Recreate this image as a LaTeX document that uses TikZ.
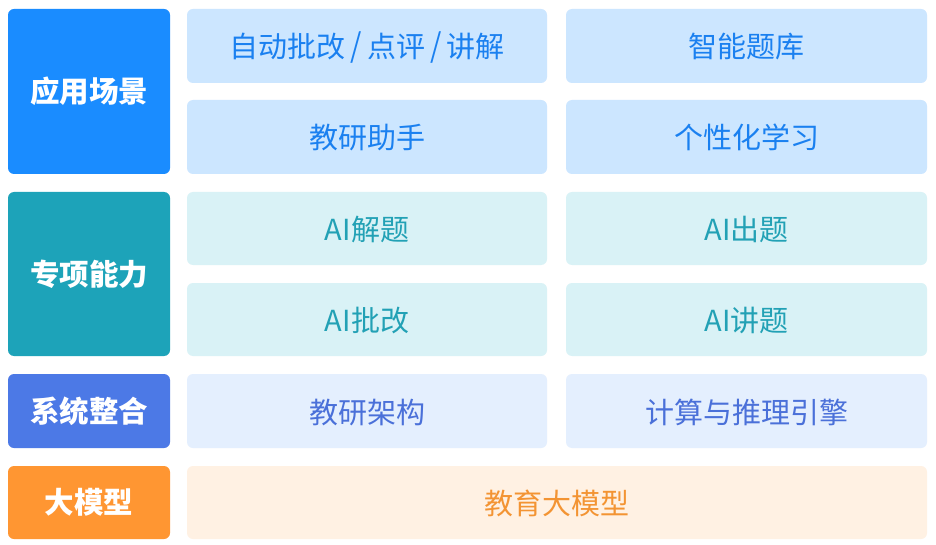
\documentclass[tikz,border=0pt]{standalone}
\usepackage{fontspec}
\setmainfont{Noto Sans CJK SC}
\definecolor{cA}{HTML}{1A8CFF}
\definecolor{cB}{HTML}{1DA3B9}
\definecolor{cC}{HTML}{4C79E6}
\definecolor{cD}{HTML}{FF9632}
\definecolor{lA}{HTML}{CCE6FF}
\definecolor{lB}{HTML}{D9F2F6}
\definecolor{lC}{HTML}{E4EFFE}
\definecolor{lD}{HTML}{FFF1E3}
\definecolor{tA}{HTML}{1A80F0}
\definecolor{tB}{HTML}{22A1B5}
\definecolor{tC}{HTML}{4A70D9}
\definecolor{tD}{HTML}{F39433}
\tikzset{
  base/.style={rounded corners=6pt, inner sep=0pt, align=center},
  head/.style={base, text=white, font=\fontsize{29.5}{34}\selectfont\bfseries, minimum width=162pt},
  cell/.style={base, font=\fontsize{29}{34}\selectfont, text height=27pt, text depth=3pt},
}
\newcommand{\myslash}{\kern5pt\scalebox{1}[1.12]{/}\kern5pt}
\begin{document}
\begin{tikzpicture}[x=1pt,y=-1pt]
\useasboundingbox (0,0) rectangle (936,545);
\fill[white] (0,0) rectangle (936,545);
% left headers
\node[head, fill=cA, minimum height=165pt] (h1) at (89,91.5) {应用场景};
\node[head, fill=cB, minimum height=164pt] (h2) at (89,274) {专项能力};
\node[head, fill=cC, minimum height=74pt] (h3) at (89,411) {系统整合};
\node[head, fill=cD, minimum height=73pt] (h4) at (89,502.5) {大模型};
% row 1-2
\node[cell, fill=lA, text=tA, minimum width=360pt, minimum height=74pt] (a1) at (367,46) {自动批改\myslash 点评\myslash 讲解};
\node[cell, fill=lA, text=tA, minimum width=361pt, minimum height=74pt] (a2) at (746.5,46) {智能题库};
\node[cell, fill=lA, text=tA, minimum width=360pt, minimum height=74pt] (a3) at (367,137) {教研助手};
\node[cell, fill=lA, text=tA, minimum width=361pt, minimum height=74pt] (a4) at (746.5,137) {个性化学习};
% row 3-4
\node[cell, fill=lB, text=tB, minimum width=360pt, minimum height=73pt] (b1) at (367,228.5) {AI解题};
\node[cell, fill=lB, text=tB, minimum width=361pt, minimum height=73pt] (b2) at (746.5,228.5) {AI出题};
\node[cell, fill=lB, text=tB, minimum width=360pt, minimum height=73pt] (b3) at (367,319.5) {AI批改};
\node[cell, fill=lB, text=tB, minimum width=361pt, minimum height=73pt] (b4) at (746.5,319.5) {AI讲题};
% row 5
\node[cell, fill=lC, text=tC, minimum width=360pt, minimum height=74pt] (c1) at (367,411) {教研架构};
\node[cell, fill=lC, text=tC, minimum width=361pt, minimum height=74pt] (c2) at (746.5,411) {计算与推理引擎};
% row 6
\node[cell, fill=lD, text=tD, minimum width=740pt, minimum height=73pt] (d1) at (557,502.5) {教育大模型};
\end{tikzpicture}
\end{document}
